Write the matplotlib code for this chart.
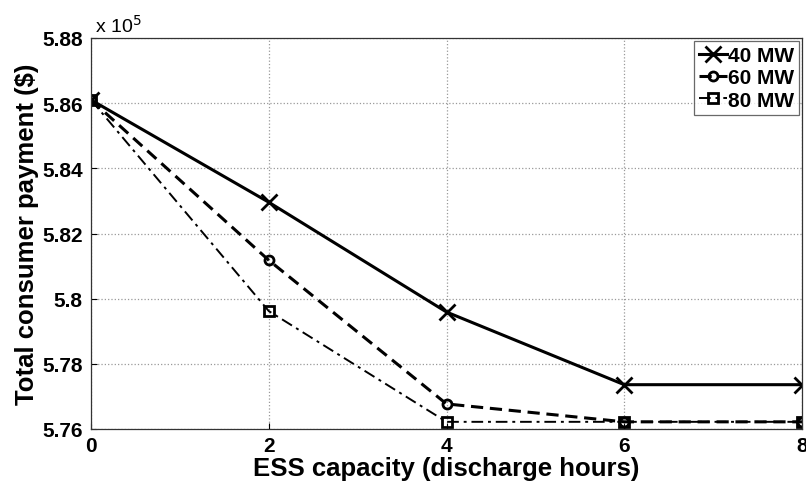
import matplotlib
matplotlib.use("Agg")
import matplotlib.pyplot as plt
from matplotlib.ticker import FuncFormatter

plt.rcParams['font.family'] = ['Liberation Sans', 'DejaVu Sans']

# ESS capacity in discharge hours
capacity = [0, 2, 4, 6, 8]

# Total consumer payment ($) for each wind level
pay_40 = [586100, 582960, 579590, 577360, 577360]
pay_60 = [586100, 581180, 576770, 576220, 576220]
pay_80 = [586100, 579620, 576220, 576220, 576220]

series_labels = ['40 MW', '60 MW', '80 MW']
x_ticks = [0, 2, 4, 6, 8]
y_ticks = [576000, 578000, 580000, 582000, 584000, 586000, 588000]

fig = plt.figure(figsize=(8.06, 4.89), dpi=100)
ax = fig.add_axes([91 / 806, 59 / 489, 711 / 806, 391 / 489])

ax.plot(capacity, pay_40, color='black', linestyle='-', linewidth=2.2,
        marker='x', markersize=11, markeredgewidth=2, label=series_labels[0])
ax.plot(capacity, pay_60, color='black', linestyle=(0, (4, 2.2)), linewidth=2.2,
        marker='o', markersize=6.5, markeredgewidth=2, markerfacecolor='none',
        label=series_labels[1])
ax.plot(capacity, pay_80, color='black', linestyle=(0, (6, 2.5, 1.5, 2.5)), linewidth=1.4,
        marker='s', markersize=6.5, markeredgewidth=2, markerfacecolor='none',
        label=series_labels[2])

ax.set_xlim(0, 8)
ax.set_ylim(576000, 588000)
ax.set_xticks(x_ticks)
ax.set_yticks(y_ticks)
ax.yaxis.set_major_formatter(FuncFormatter(lambda v, p: f"{v / 1e5:g}"))
ax.grid(True, linestyle=':', color='#999999', linewidth=0.9)
ax.tick_params(direction='in', length=4, labelsize=15, width=0.8)
ax.tick_params(axis='x', pad=5)
ax.tick_params(axis='y', pad=6)
for lbl in ax.get_xticklabels() + ax.get_yticklabels():
    lbl.set_fontweight('bold')
for sp in ax.spines.values():
    sp.set_linewidth(0.9)
    sp.set_color('#333333')

ax.set_xlabel('ESS capacity (discharge hours)', fontsize=18.5, fontweight='bold', labelpad=1)
ax.set_ylabel('Total consumer payment ($)', fontsize=18.5, fontweight='bold', labelpad=2)

ax.text(0.005, 1.005, r'x 10$^5$', transform=ax.transAxes, fontsize=14,
        ha='left', va='bottom')

leg = ax.legend(loc='upper right', frameon=True, fancybox=False,
                handlelength=1.3, handletextpad=0.05, borderpad=0.25,
                labelspacing=0.15, borderaxespad=0.15,
                prop={'weight': 'bold', 'size': 15})
leg.get_frame().set_edgecolor('#444444')
leg.get_frame().set_linewidth(0.9)

fig.savefig('out.png', dpi=100)
